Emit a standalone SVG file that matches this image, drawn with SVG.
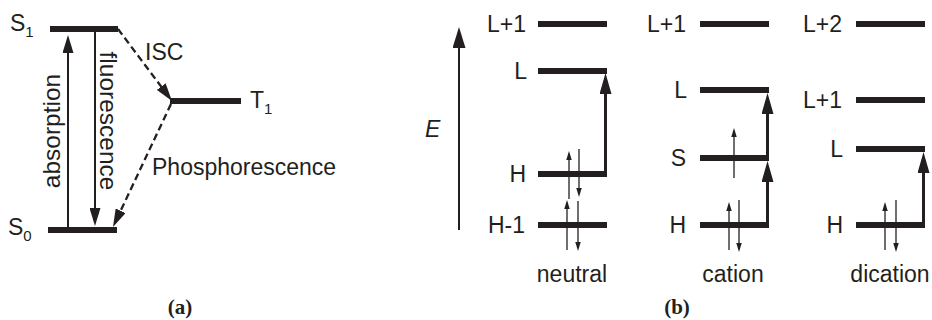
<svg xmlns="http://www.w3.org/2000/svg" width="932" height="320" viewBox="0 0 932 320">
<style>
text{font-family:"Liberation Sans",Arial,sans-serif;font-size:23px;fill:#231f20}
.sub{font-size:15px}
.rot{font-size:24.5px}
.r{text-anchor:end}
.m{text-anchor:middle}
.cap{font-family:"Liberation Serif","Times New Roman",serif;font-weight:bold;font-size:21px}
.lvl{stroke:#231f20;stroke-width:6;fill:none}
.ar{stroke:#231f20;stroke-width:2;fill:none}
.dash{stroke-width:2.3;stroke-dasharray:7 4}
.tr{stroke:#231f20;stroke-width:3;fill:none}
.el{stroke:#231f20;stroke-width:1.3;fill:none}
</style>
<defs>
<marker id="ah" markerUnits="userSpaceOnUse" markerWidth="18" markerHeight="11" refX="10" refY="5.5" orient="auto"><path d="M0,0 L18,5.5 L0,11 z" fill="#231f20"/></marker>
<marker id="aE" markerUnits="userSpaceOnUse" markerWidth="21" markerHeight="13" refX="12" refY="6.5" orient="auto"><path d="M0,0 L21,6.5 L0,13 z" fill="#231f20"/></marker>
<marker id="aT" markerUnits="userSpaceOnUse" markerWidth="21" markerHeight="12" refX="12" refY="6" orient="auto"><path d="M0,0 L21,6 L0,12 z" fill="#231f20"/></marker>
<marker id="ae" markerUnits="userSpaceOnUse" markerWidth="9" markerHeight="5.5" refX="5" refY="2.75" orient="auto"><path d="M0,0 L9,2.75 L0,5.5 z" fill="#231f20"/></marker>
</defs>

<!-- Panel (a) -->
<g id="S1"><line class="lvl" x1="50" y1="29" x2="118" y2="29"/><text x="10" y="31">S<tspan class="sub" dy="6">1</tspan></text></g>
<g id="S0"><line class="lvl" x1="48" y1="230" x2="117" y2="230"/><text x="8" y="235">S<tspan class="sub" dy="6">0</tspan></text></g>
<g id="T1"><line class="lvl" x1="170" y1="101" x2="241" y2="101"/><text x="250" y="108">T<tspan class="sub" dy="6">1</tspan></text></g>

<g id="connectors-a">
<line class="ar" x1="68" y1="227" x2="68" y2="43" marker-end="url(#ah)"/>
<line class="ar" x1="95" y1="32" x2="95" y2="218" marker-end="url(#ah)"/>
<line class="ar dash" x1="118" y1="29" x2="167.2" y2="94.6" marker-end="url(#ah)"/>
<line class="ar dash" x1="171" y1="104" x2="116.4" y2="219.8" marker-end="url(#ah)"/>
<text transform="translate(60,131) rotate(-90)" class="m rot">absorption</text>
<text transform="translate(100,121) rotate(90)" class="m rot">fluorescence</text>
<text x="145" y="60">ISC</text>
<text x="152" y="175">Phosphorescence</text>
</g>
<text class="cap m" x="180" y="314">(a)</text>

<!-- Panel (b) -->
<g id="energy-axis"><line class="ar" x1="459" y1="230" x2="459" y2="36" marker-end="url(#aE)"/><text x="425" y="137" font-style="italic">E</text></g>

<g id="neutral">
<line class="lvl" x1="538" y1="24" x2="607" y2="24"/><text class="r" x="526" y="32">L+1</text>
<line class="lvl" x1="538" y1="71" x2="607" y2="71"/><text class="r" x="527" y="79">L</text>
<line class="lvl" x1="538" y1="174" x2="607" y2="174"/><text class="r" x="526" y="182">H</text>
<line class="lvl" x1="538" y1="225" x2="607" y2="225"/><text class="r" x="525" y="233">H-1</text>
<text class="m" x="572" y="282">neutral</text>
</g>
<g id="cation">
<line class="lvl" x1="700" y1="24" x2="769" y2="24"/><text class="r" x="686" y="32">L+1</text>
<line class="lvl" x1="700" y1="90" x2="769" y2="90"/><text class="r" x="687" y="98">L</text>
<line class="lvl" x1="700" y1="158" x2="769" y2="158"/><text class="r" x="686" y="166">S</text>
<line class="lvl" x1="700" y1="225" x2="769" y2="225"/><text class="r" x="686" y="233">H</text>
<text class="m" x="733" y="282">cation</text>
</g>
<g id="dication">
<line class="lvl" x1="856" y1="24" x2="925" y2="24"/><text class="r" x="842" y="32">L+2</text>
<line class="lvl" x1="856" y1="100" x2="925" y2="100"/><text class="r" x="842" y="108">L+1</text>
<line class="lvl" x1="856" y1="149" x2="925" y2="149"/><text class="r" x="843" y="157">L</text>
<line class="lvl" x1="856" y1="225" x2="925" y2="225"/><text class="r" x="843" y="233">H</text>
<text class="m" x="890" y="282">dication</text>
</g>

<g id="connectors-b">
<line class="tr" x1="605.5" y1="177" x2="605.5" y2="82" marker-end="url(#aT)"/>
<line class="tr" x1="767.5" y1="228" x2="767.5" y2="170" marker-end="url(#aT)"/>
<line class="tr" x1="767.5" y1="161" x2="767.5" y2="102" marker-end="url(#aT)"/>
<line class="tr" x1="923.5" y1="228" x2="923.5" y2="161" marker-end="url(#aT)"/>
<line class="el" x1="569" y1="199" x2="569" y2="155" marker-end="url(#ae)"/>
<line class="el" x1="579" y1="149" x2="579" y2="193" marker-end="url(#ae)"/>
<line class="el" x1="567" y1="250" x2="567" y2="204" marker-end="url(#ae)"/>
<line class="el" x1="578" y1="201" x2="578" y2="247" marker-end="url(#ae)"/>
<line class="el" x1="734" y1="178" x2="734" y2="132" marker-end="url(#ae)"/>
<line class="el" x1="729" y1="250" x2="729" y2="206" marker-end="url(#ae)"/>
<line class="el" x1="739" y1="200" x2="739" y2="248" marker-end="url(#ae)"/>
<line class="el" x1="885" y1="250" x2="885" y2="206" marker-end="url(#ae)"/>
<line class="el" x1="896" y1="200" x2="896" y2="248" marker-end="url(#ae)"/>
</g>
<text class="cap m" x="677" y="314">(b)</text>
</svg>
